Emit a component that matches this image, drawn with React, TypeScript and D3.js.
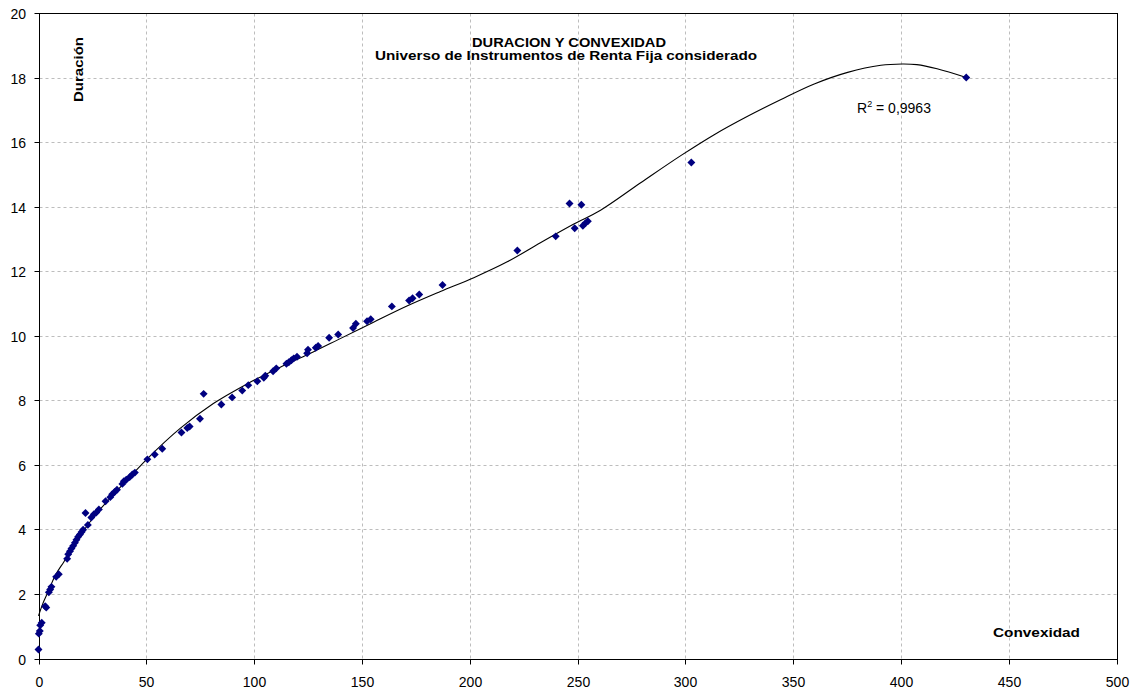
import React, { useEffect, useRef } from 'react'
import * as d3 from 'd3'

// Convexidad (x) y Duración (y) de cada instrumento
const convexidad = [
  0, 0.15, 0.6, 0.8, 1.5, 3.1, 3.6, 4.8, 5.4, 6.0, 8.2, 9.4, 13.3, 13.8, 14.6, 15.3, 16.1, 16.9, 17.6, 18.4,
  19.2, 20.0, 20.7, 21.8, 22.9, 24.5, 25.7, 26.8, 28.0, 31.1, 33.3, 34.2, 35.3, 36.4, 38.9, 39.6, 40.7, 42.3,
  43.5, 44.7, 50.5, 53.9, 57.4, 66.3, 69.0, 70.1, 74.9, 76.6, 84.8, 89.8, 94.5, 97.3, 101.5, 104.5, 105.2,
  108.8, 110.3, 115.0, 116.1, 117.3, 118.4, 119.9, 124.6, 125.0, 128.6, 129.7, 134.8, 139.0, 145.9, 147.2,
  152.4, 154.1, 163.9, 171.9, 173.5, 176.6, 187.4, 222.1, 239.9, 246.3, 251.8, 248.7, 252.5, 253.7, 254.8,
  302.8, 430.3,
]
const duracion = [
  0.28, 0.77, 0.85, 1.03, 1.11, 1.62, 1.58, 2.05, 2.14, 2.22, 2.53, 2.61, 3.09, 3.23, 3.32, 3.41, 3.49, 3.59,
  3.68, 3.77, 3.84, 3.92, 3.99, 4.51, 4.14, 4.37, 4.47, 4.52, 4.62, 4.87, 5.0, 5.09, 5.16, 5.23, 5.41, 5.49,
  5.54, 5.62, 5.7, 5.76, 6.17, 6.32, 6.5, 7.0, 7.14, 7.19, 7.43, 8.2, 7.87, 8.09, 8.3, 8.47, 8.59, 8.7, 8.76,
  8.9, 8.99, 9.13, 9.18, 9.24, 9.3, 9.35, 9.46, 9.57, 9.63, 9.68, 9.94, 10.04, 10.24, 10.37, 10.45, 10.51,
  10.91, 11.09, 11.16, 11.28, 11.57, 12.64, 13.08, 14.1, 14.06, 13.33, 13.41, 13.49, 13.55, 15.37, 18.0,
]

// Línea de tendencia polinómica
const trendX = [
  0, 2, 4, 8, 11.8, 16, 21.4, 27, 33.7, 44.6, 50.3, 65.7, 81.1, 96.5, 111.9, 127.4, 139, 155.4, 170.9, 186.4,
  201.9, 217.4, 232.8, 248.3, 260.7, 279.3, 297.9, 313.4, 328.9, 344.4, 359.8, 375.3, 390.7, 400.5, 407.4,
  416.8, 430.3,
]
const trendY = [
  1.32, 1.7, 2.0, 2.6, 3.0, 3.45, 4.0, 4.5, 5.0, 5.78, 6.18, 7.13, 7.9, 8.5, 9.02, 9.5, 9.88, 10.42, 10.92,
  11.37, 11.8, 12.29, 12.88, 13.46, 13.89, 14.74, 15.58, 16.23, 16.8, 17.32, 17.8, 18.16, 18.38, 18.42, 18.4,
  18.27, 18.0,
]

const xTicks = [0, 50, 100, 150, 200, 250, 300, 350, 400, 450, 500]
const yTicks = [0, 2, 4, 6, 8, 10, 12, 14, 16, 18, 20]

const W = 1135
const H = 691
const FONT = '"Liberation Sans", Arial, sans-serif'

export default function App() {
  const svgRef = useRef<SVGSVGElement>(null)

  useEffect(() => {
    if (!svgRef.current) return
    const svg = d3.select(svgRef.current)
    svg.selectAll('*').remove()

    const x = d3.scaleLinear().domain([0, 500]).range([38.5, 1116.5])
    const y = d3.scaleLinear().domain([0, 20]).range([658.5, 13])
    const px = (v: number) => Math.round(x(v)) + 0.5
    const py = (v: number) => Math.round(y(v)) + 0.5

    svg.append('rect').attr('width', W).attr('height', H).attr('fill', '#fff')

    // grid
    const grid = svg.append('g').attr('stroke', '#bdbdbd').attr('stroke-dasharray', '3,3').attr('stroke-width', 1)
    xTicks.slice(1, -1).forEach((t) => {
      grid.append('line').attr('x1', px(t)).attr('x2', px(t)).attr('y1', py(20)).attr('y2', py(0))
    })
    yTicks.slice(1, -1).forEach((t) => {
      grid.append('line').attr('x1', px(0)).attr('x2', px(500)).attr('y1', py(t)).attr('y2', py(t))
    })

    // plot frame
    svg
      .append('rect')
      .attr('x', px(0))
      .attr('y', py(20))
      .attr('width', px(500) - px(0))
      .attr('height', py(0) - py(20))
      .attr('fill', 'none')
      .attr('stroke', '#000')

    // ticks + labels
    const axes = svg.append('g').attr('font-family', FONT).attr('font-size', 14).attr('fill', '#000')
    yTicks.forEach((t) => {
      axes.append('line').attr('x1', px(0) - 5).attr('x2', px(0)).attr('y1', py(t)).attr('y2', py(t)).attr('stroke', '#000')
      axes
        .append('text')
        .attr('x', 26)
        .attr('y', py(t) + 5)
        .attr('text-anchor', 'end')
        .text(t)
    })
    xTicks.forEach((t) => {
      axes.append('line').attr('x1', px(t)).attr('x2', px(t)).attr('y1', py(0)).attr('y2', py(0) + 5).attr('stroke', '#000')
      axes
        .append('text')
        .attr('x', px(t))
        .attr('y', 687)
        .attr('text-anchor', 'middle')
        .text(t)
    })

    // trend line
    const line = d3
      .line<number>()
      .x((d, i) => x(trendX[i]))
      .y((d) => y(d))
      .curve(d3.curveCatmullRom.alpha(0.5))
    svg.append('path').attr('d', line(trendY)).attr('fill', 'none').attr('stroke', '#000').attr('stroke-width', 1.1)

    // points
    const diamond = d3.symbol().type(d3.symbolDiamond2).size(40)
    svg
      .append('g')
      .selectAll('path')
      .data(convexidad.map((c, i) => [c, duracion[i]]))
      .join('path')
      .attr('d', diamond)
      .attr('transform', (d) => `translate(${x(d[0])},${y(d[1])})`)
      .attr('fill', '#000080')

    // titles
    const titles = svg.append('g').attr('font-family', FONT).attr('font-weight', 'bold').attr('fill', '#000')
    titles
      .append('text')
      .attr('x', 472)
      .attr('y', 47)
      .attr('font-size', 13.5)
      .attr('textLength', 194)
      .attr('lengthAdjust', 'spacingAndGlyphs')
      .text('DURACION Y CONVEXIDAD')
    titles
      .append('text')
      .attr('x', 375)
      .attr('y', 60)
      .attr('font-size', 12)
      .attr('textLength', 382)
      .attr('lengthAdjust', 'spacingAndGlyphs')
      .text('Universo de Instrumentos de Renta Fija considerado')
    titles
      .append('text')
      .attr('transform', 'translate(83,102) rotate(-90)')
      .attr('font-size', 12.5)
      .attr('textLength', 65)
      .attr('lengthAdjust', 'spacingAndGlyphs')
      .text('Duración')
    titles
      .append('text')
      .attr('x', 993)
      .attr('y', 637)
      .attr('font-size', 13)
      .attr('textLength', 87)
      .attr('lengthAdjust', 'spacingAndGlyphs')
      .text('Convexidad')

    // R²
    const r2 = svg
      .append('text')
      .attr('x', 857)
      .attr('y', 113)
      .attr('font-family', FONT)
      .attr('font-size', 14)
      .attr('fill', '#000')
    r2.append('tspan').text('R')
    r2.append('tspan').attr('font-size', 9).attr('dy', -6).text('2')
    r2.append('tspan').attr('dy', 6).text(' = 0,9963')
  }, [])

  return (
    <svg
      ref={svgRef}
      width={W}
      height={H}
      style={{ position: 'absolute', left: 0, top: 0, display: 'block' }}
    />
  )
}
